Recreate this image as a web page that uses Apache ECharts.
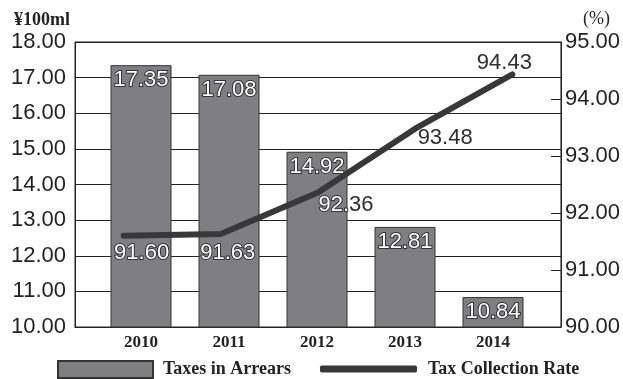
<!DOCTYPE html>
<html>
<head>
<meta charset="utf-8">
<script src="https://cdn.jsdelivr.net/npm/echarts@6/dist/echarts.min.js"></script>
<style>
  html, body { margin: 0; padding: 0; background: #fff; }
  #chart { width: 623px; height: 379px; }
</style>
</head>
<body>
<div id="chart"></div>
<script>
// Years on the category axis
const years = ['2010', '2011', '2012', '2013', '2014'];
// Taxes in arrears, ¥100ml (left axis)
const arrears = [17.35, 17.08, 14.92, 12.81, 10.84];
// Tax collection rate, % (right axis)
const collectionRate = [91.60, 91.63, 92.36, 93.48, 94.43];
// Axis tick ranges
const leftTicks = { min: 10, max: 18, step: 1 };
const rightTicks = { min: 90, max: 95, step: 1 };

// Where each rate label sits relative to its point, and how much of it lies on a bar
// ('all', 'none', or 'head' when only the leading characters overlap the bar)
const rateLabelOffsets = [[18, 17], [7, 19], [28, 12], [30, 9], [-8, -12]];
const rateLabelOnBar = ['all', 'all', 'head', 'none', 'none'];

const ink = '#232323';
const barGray = '#7f7f82';
const lineGray = '#383838';
const sans = '"Liberation Sans", Arial, sans-serif';
const serif = '"Liberation Serif", "Times New Roman", serif';

const fmt2 = v => Number(v).toFixed(2);

const outlinedText = {
  color: '#fff',
  textBorderColor: '#333',
  textBorderWidth: 2
};
const plainText = { color: '#2e2e2e', textBorderWidth: 0 };

function rateLabel(i) {
  const base = { offset: rateLabelOffsets[i] };
  const mode = rateLabelOnBar[i];
  if (mode === 'all') return Object.assign(base, outlinedText);
  if (mode === 'none') return Object.assign(base, plainText);
  // white part over the bar, dark part over the background
  return Object.assign(base, {
    formatter: p => {
      const s = fmt2(p.value);
      return '{w|' + s.slice(0, 3) + '}{d|' + s.slice(3) + '}';
    },
    rich: {
      w: Object.assign({ fontFamily: sans, fontSize: 22 }, outlinedText),
      d: Object.assign({ fontFamily: sans, fontSize: 22 }, plainText)
    }
  });
}

const rateData = collectionRate.map((v, i) => ({ value: v, label: rateLabel(i) }));

const chart = echarts.init(document.getElementById('chart'), null, { renderer: 'canvas' });

chart.setOption({
  animation: false,
  backgroundColor: '#fff',
  title: [
    {
      text: '¥100ml', left: 9, top: 6,
      textStyle: { fontFamily: serif, fontSize: 18, fontWeight: 'bold', color: ink }
    },
    {
      text: '(%)', left: 578, top: 5,
      textStyle: { fontFamily: serif, fontSize: 18, fontWeight: 'normal', color: ink }
    }
  ],
  legend: [
    {
      data: ['Taxes in Arrears'],
      left: 52, top: 355,
      itemWidth: 95, itemHeight: 17, itemGap: 0,
      icon: 'rect',
      textStyle: { fontFamily: serif, fontSize: 18, fontWeight: 'bold', color: ink, padding: [0, 0, 0, 5] }
    },
    {
      data: ['Tax Collection Rate'],
      left: 315, top: 355,
      itemWidth: 97, itemHeight: 7, itemGap: 0,
      icon: 'roundRect',
      textStyle: { fontFamily: serif, fontSize: 18, fontWeight: 'bold', color: ink, padding: [0, 0, 0, 6] }
    }
  ],
  grid: [
    // frame, gridlines and the rate line
    { left: 75, right: 60, top: 42, bottom: 52, show: true, borderColor: ink, borderWidth: 1, backgroundColor: 'transparent' },
    // bars
    { left: 97, right: 86, top: 42, bottom: 52 }
  ],
  xAxis: [
    {
      type: 'category', gridIndex: 0, data: years, boundaryGap: true,
      axisLine: { show: true, lineStyle: { color: ink, width: 1 } },
      axisTick: { show: false }, axisLabel: { show: false }, splitLine: { show: false }
    },
    {
      type: 'category', gridIndex: 1, data: years, boundaryGap: true,
      axisLine: { show: false }, axisTick: { show: false }, splitLine: { show: false },
      axisLabel: { fontFamily: serif, fontSize: 17, fontWeight: 'bold', color: ink, margin: 7 }
    }
  ],
  yAxis: [
    {
      type: 'value', gridIndex: 0, position: 'left',
      min: leftTicks.min, max: leftTicks.max, interval: leftTicks.step,
      axisLine: { show: true, lineStyle: { color: ink, width: 1 } },
      axisTick: { show: false },
      splitLine: { show: true, lineStyle: { color: ink, width: 1 } },
      axisLabel: { fontFamily: sans, fontSize: 22, color: ink, margin: 9, formatter: fmt2 }
    },
    {
      type: 'value', gridIndex: 0, position: 'right',
      min: rightTicks.min, max: rightTicks.max, interval: rightTicks.step,
      axisLine: { show: true, lineStyle: { color: ink, width: 1 } },
      axisTick: { show: true, inside: true, length: 10, lineStyle: { color: ink, width: 1 } },
      splitLine: { show: false },
      axisLabel: { fontFamily: sans, fontSize: 22, color: ink, margin: 4, formatter: fmt2 }
    },
    {
      type: 'value', gridIndex: 1,
      min: leftTicks.min, max: leftTicks.max, interval: leftTicks.step,
      show: false
    }
  ],
  series: [
    {
      name: 'Taxes in Arrears', type: 'bar',
      xAxisIndex: 1, yAxisIndex: 2,
      data: arrears,
      barWidth: 61,
      z: 2,
      itemStyle: { color: barGray, borderColor: '#333', borderWidth: 1 },
      label: Object.assign({
        show: true, position: 'insideTop', distance: 4,
        fontFamily: sans, fontSize: 22,
        formatter: p => fmt2(p.value)
      }, outlinedText)
    },
    {
      name: 'Tax Collection Rate', type: 'line',
      xAxisIndex: 0, yAxisIndex: 1,
      data: rateData,
      z: 5,
      symbol: 'circle', symbolSize: 2,
      itemStyle: { color: lineGray },
      lineStyle: { color: lineGray, width: 6, cap: 'round', join: 'round' },
      label: {
        show: true, position: 'inside',
        fontFamily: sans, fontSize: 22,
        formatter: p => fmt2(p.value)
      }
    }
  ]
});
</script>
</body>
</html>
